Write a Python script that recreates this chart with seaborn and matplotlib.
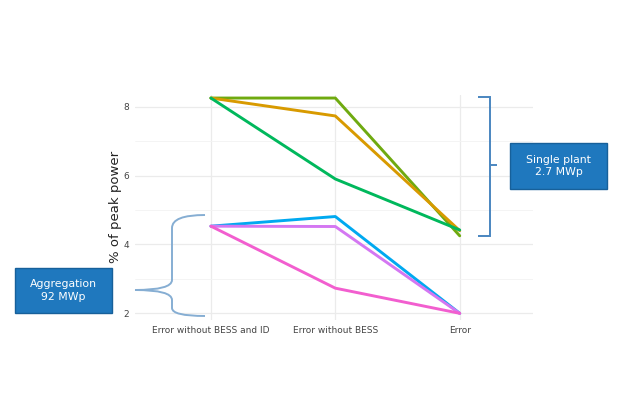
import matplotlib
matplotlib.use("Agg")
import matplotlib.pyplot as plt
from matplotlib.path import Path
from matplotlib.patches import PathPatch, FancyBboxPatch
import seaborn as sns
import pandas as pd

categories = ["Error without BESS and ID", "Error without BESS", "Error"]
series_names = ["S1", "S2", "S3", "A1", "A2", "A3"]
s1 = [8.25, 8.25, 4.25]
s2 = [8.25, 7.73, 4.40]
s3 = [8.25, 5.90, 4.42]
a1 = [4.53, 4.81, 2.0]
a2 = [4.53, 4.52, 2.0]
a3 = [4.53, 2.73, 2.0]
yticks = [2, 4, 6, 8]
colors = ["#6FAA10", "#D89A00", "#00B85C", "#00A9F0", "#D477F2", "#F25ECF"]

rows = []
for name, vals in zip(series_names, [s1, s2, s3, a1, a2, a3]):
    for i, v in enumerate(vals):
        rows.append({"series": name, "x": i, "value": v})
df = pd.DataFrame(rows)

sns.set_theme(style="white")
plt.rcParams['font.family'] = ['DejaVu Sans']
fig = plt.figure(figsize=(6.25, 4), dpi=100)
ax = fig.add_axes([0.216, 0.1995, 0.637, 0.564])

sns.lineplot(data=df, x="x", y="value", hue="series", palette=colors,
             linewidth=2.1, ax=ax, legend=False, sort=False)

ax.set_xlim(-0.61, 2.59)
ax.set_ylim(1.8, 8.35)
ax.set_xticks([0, 1, 2])
ax.set_xticklabels(categories, fontsize=6.5, color="#444444")
ax.set_yticks(yticks)
ax.set_yticklabels([str(t) for t in yticks], fontsize=6.5, color="#444444")
ax.set_yticks([3, 5, 7], minor=True)
ax.grid(True, which="major", color="#ebebeb", linewidth=0.9)
ax.grid(True, which="minor", axis="y", color="#f3f3f3", linewidth=0.6)
ax.set_axisbelow(True)
for sp in ax.spines.values():
    sp.set_visible(False)
ax.tick_params(axis="both", length=0, pad=4)
ax.set_xlabel("")
ax.set_ylabel("% of peak power", fontsize=9.5, color="#222222", labelpad=1)

W, H = 625.0, 400.0
def P(x, y):
    return (x / W, 1 - y / H)

# left curly brace
verts = [P(205, 215), P(172, 215), P(172, 228), P(172, 240),
         P(172, 280), P(172, 290), P(135, 290),
         P(172, 290), P(172, 300), P(172, 308),
         P(172, 316), P(205, 316)]
codes = [Path.MOVETO, Path.CURVE3, Path.CURVE3, Path.LINETO,
         Path.LINETO, Path.CURVE3, Path.CURVE3,
         Path.CURVE3, Path.CURVE3, Path.LINETO,
         Path.CURVE3, Path.CURVE3]
fig.patches.append(PathPatch(Path(verts, codes), transform=fig.transFigure,
                             fill=False, edgecolor="#86AED3", linewidth=1.4))

# right square bracket
verts2 = [P(478, 97), P(490, 97), P(490, 236), P(478, 236)]
fig.patches.append(PathPatch(Path(verts2, [Path.MOVETO, Path.LINETO, Path.LINETO, Path.LINETO]),
                             transform=fig.transFigure, fill=False,
                             edgecolor="#4A86C0", linewidth=1.4))
verts3 = [P(490, 165), P(497, 165)]
fig.patches.append(PathPatch(Path(verts3, [Path.MOVETO, Path.LINETO]),
                             transform=fig.transFigure, fill=False,
                             edgecolor="#4A86C0", linewidth=1.4))

def box(x0, y0, x1, y1, text):
    bl = P(x0, y1)
    w = (x1 - x0) / W
    h = (y1 - y0) / H
    fig.patches.append(FancyBboxPatch(bl, w, h, boxstyle="square,pad=0",
                                      transform=fig.transFigure,
                                      facecolor="#1F78BE", edgecolor="#17609A",
                                      linewidth=1.0))
    cx, cy = P((x0 + x1) / 2, (y0 + y1) / 2)
    fig.text(cx, cy, text, ha="center", va="center", color="white",
             fontsize=7.8, linespacing=1.3)

box(15, 268, 112, 313, "Aggregation\n92 MWp")
box(510, 143, 607, 189, "Single plant\n2.7 MWp")

fig.savefig("out.png", dpi=100, facecolor="white")
